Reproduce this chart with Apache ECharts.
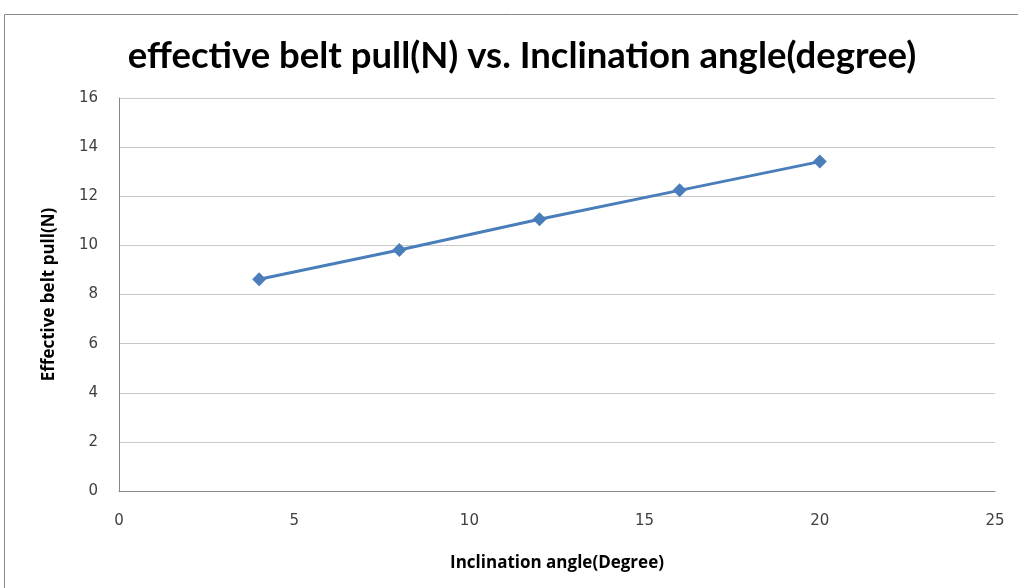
<!DOCTYPE html>
<html>
<head>
<meta charset="utf-8">
<script src="https://cdn.jsdelivr.net/npm/echarts@6/dist/echarts.min.js"></script>
<style>
  html, body { margin: 0; padding: 0; background: #fff; }
  #chart { width: 1018px; height: 588px; }
</style>
</head>
<body>
<div id="chart"></div>
<script>
// inclination angle (degree) and the measured belt pull (N)
var angles = [4, 8, 12, 16, 20];
var beltPull = [8.62, 9.81, 11.06, 12.24, 13.41];

var points = angles.map(function (a, i) { return [a, beltPull[i]]; });

var myChart = echarts.init(document.getElementById("chart"));

var option = {
    backgroundColor: "#fff",
    animation: false,
    title: {
        text: "effective belt pull(N) vs. Inclination angle(degree)",
        left: 517,
        textAlign: "center",
        top: 33,
        textStyle: {
            fontFamily: "Lato",
            fontWeight: "bold",
            fontSize: 36.5,
            color: "#000"
        }
    },
    // outer chart border
    graphic: [{
        type: "rect",
        shape: { x: 4.5, y: 14.5, width: 1040, height: 600 },
        style: { fill: "none", stroke: "#888", lineWidth: 1 },
        silent: true
    }],
    grid: { left: 119, right: 23, top: 98, bottom: 97 },
    xAxis: {
        type: "value",
        min: 0,
        max: 25,
        interval: 5,
        name: "Inclination angle(Degree)",
        nameLocation: "middle",
        nameGap: 64,
        nameTextStyle: { fontFamily: "Open Sans", fontWeight: "bold", fontSize: 17, color: "#000" },
        axisLine: { lineStyle: { color: "#888" } },
        axisTick: { show: false },
        splitLine: { show: false },
        axisLabel: { margin: 23, fontFamily: "DejaVu Sans", fontSize: 15, color: "#404040" }
    },
    yAxis: {
        type: "value",
        min: 0,
        max: 16,
        interval: 2,
        name: "Effective belt pull(N)",
        nameLocation: "middle",
        nameGap: 61,
        nameTextStyle: { fontFamily: "Open Sans", fontWeight: "bold", fontSize: 17, color: "#000" },
        axisLine: { show: true, lineStyle: { color: "#888" } },
        axisTick: { show: false },
        splitLine: { lineStyle: { color: "#c8c8c8" } },
        axisLabel: { margin: 21, fontFamily: "DejaVu Sans", fontSize: 15, color: "#404040" }
    },
    series: [{
        type: "line",
        data: points,
        symbol: "diamond",
        symbolSize: 14,
        lineStyle: { color: "#4a7ebb", width: 3 },
        itemStyle: { color: "#4a7ebb" }
    }]
};

myChart.setOption(option);
</script>
</body>
</html>
